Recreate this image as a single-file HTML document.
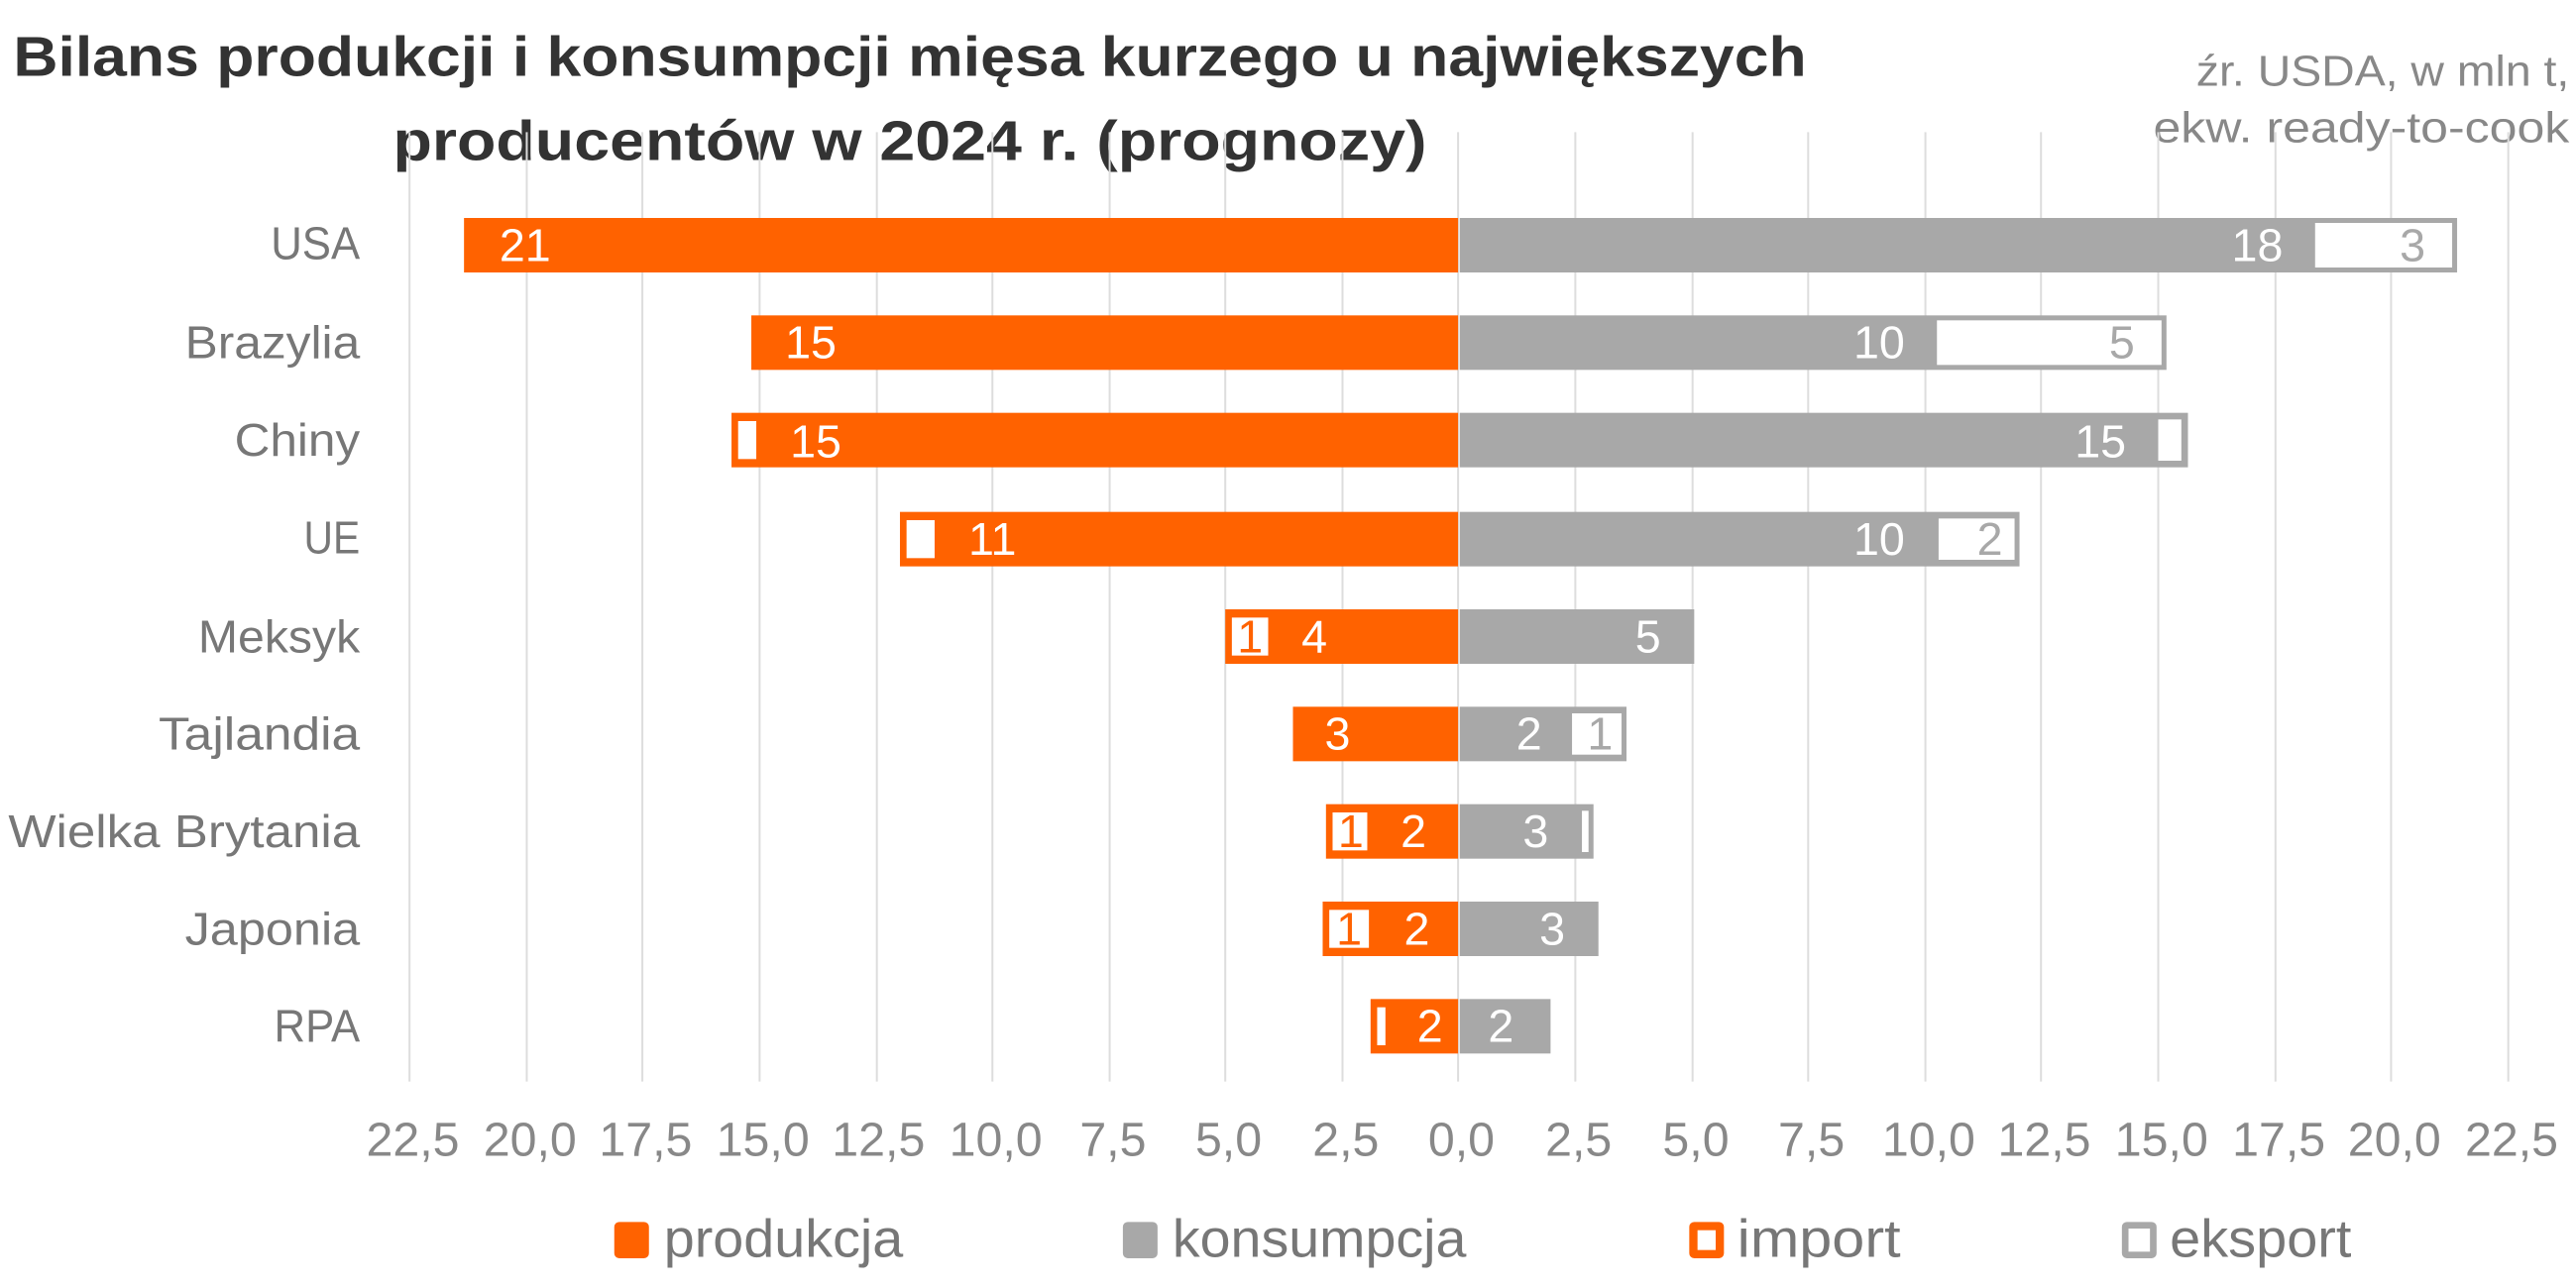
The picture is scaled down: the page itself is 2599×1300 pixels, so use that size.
<!DOCTYPE html>
<html><head><meta charset="utf-8"><style>
html,body{margin:0;padding:0;background:#fff;}
svg{display:block;}
text{font-family:"Liberation Sans Narrow","Liberation Sans",sans-serif;}
</style></head><body>
<svg width="2599" height="1300" viewBox="0 0 1560 780" preserveAspectRatio="none" xmlns="http://www.w3.org/2000/svg">
<text x="8" y="46" font-size="34" font-weight="bold" fill="#333" textLength="1086" lengthAdjust="spacingAndGlyphs" style="font-family:'Liberation Sans',sans-serif">Bilans produkcji i konsumpcji mięsa kurzego u największych</text>
<text x="238" y="97" font-size="34" font-weight="bold" fill="#333" textLength="626" lengthAdjust="spacingAndGlyphs" style="font-family:'Liberation Sans',sans-serif">producentów w 2024 r. (prognozy)</text>
<text x="1556" y="52" font-size="26" fill="#888" text-anchor="end" textLength="226" lengthAdjust="spacingAndGlyphs">źr. USDA, w mln t,</text>
<text x="1556" y="86" font-size="26" fill="#888" text-anchor="end" textLength="252" lengthAdjust="spacingAndGlyphs">ekw. ready-to-cook</text>
<g stroke="#DDD" stroke-width="1.2">
<line x1="248" y1="80" x2="248" y2="655"/><line x1="319" y1="80" x2="319" y2="655"/><line x1="389" y1="80" x2="389" y2="655"/><line x1="460" y1="80" x2="460" y2="655"/><line x1="531" y1="80" x2="531" y2="655"/><line x1="601" y1="80" x2="601" y2="655"/><line x1="672" y1="80" x2="672" y2="655"/><line x1="742" y1="80" x2="742" y2="655"/><line x1="813" y1="80" x2="813" y2="655"/><line x1="883" y1="80" x2="883" y2="655"/><line x1="954" y1="80" x2="954" y2="655"/><line x1="1025" y1="80" x2="1025" y2="655"/><line x1="1095" y1="80" x2="1095" y2="655"/><line x1="1166" y1="80" x2="1166" y2="655"/><line x1="1236" y1="80" x2="1236" y2="655"/><line x1="1307" y1="80" x2="1307" y2="655"/><line x1="1378" y1="80" x2="1378" y2="655"/><line x1="1448" y1="80" x2="1448" y2="655"/><line x1="1519" y1="80" x2="1519" y2="655"/>
</g>
<g font-size="28" fill="#777" text-anchor="end">
<text x="218" y="157" textLength="54" lengthAdjust="spacingAndGlyphs">USA</text><text x="218" y="217" textLength="106" lengthAdjust="spacingAndGlyphs">Brazylia</text><text x="218" y="276" textLength="76" lengthAdjust="spacingAndGlyphs">Chiny</text><text x="218" y="335" textLength="34" lengthAdjust="spacingAndGlyphs">UE</text><text x="218" y="395" textLength="98" lengthAdjust="spacingAndGlyphs">Meksyk</text><text x="218" y="454" textLength="122" lengthAdjust="spacingAndGlyphs">Tajlandia</text><text x="218" y="513" textLength="213" lengthAdjust="spacingAndGlyphs">Wielka Brytania</text><text x="218" y="572" textLength="106" lengthAdjust="spacingAndGlyphs">Japonia</text><text x="218" y="631" textLength="52" lengthAdjust="spacingAndGlyphs">RPA</text>
</g>
<g>
<rect x="281" y="132" width="602" height="33" fill="#FF6200"/>
<rect x="884" y="132" width="604" height="33" fill="#A8A8A8"/>
<rect x="1402" y="135" width="83" height="27" fill="#fff"/>
<rect x="455" y="191" width="428" height="33" fill="#FF6200"/>
<rect x="884" y="191" width="428" height="33" fill="#A8A8A8"/>
<rect x="1173" y="194" width="136" height="27" fill="#fff"/>
<rect x="443" y="250" width="440" height="33" fill="#FF6200"/>
<rect x="447" y="255" width="11" height="23" fill="#fff"/>
<rect x="884" y="250" width="441" height="33" fill="#A8A8A8"/>
<rect x="1307" y="254" width="14" height="25" fill="#fff"/>
<rect x="545" y="310" width="338" height="33" fill="#FF6200"/>
<rect x="549" y="315" width="17" height="23" fill="#fff"/>
<rect x="884" y="310" width="339" height="33" fill="#A8A8A8"/>
<rect x="1174" y="314" width="46" height="25" fill="#fff"/>
<rect x="742" y="369" width="141" height="33" fill="#FF6200"/>
<rect x="746" y="374" width="22" height="23" fill="#fff"/>
<rect x="884" y="369" width="142" height="33" fill="#A8A8A8"/>
<rect x="783" y="428" width="100" height="33" fill="#FF6200"/>
<rect x="884" y="428" width="101" height="33" fill="#A8A8A8"/>
<rect x="952" y="432" width="30" height="25" fill="#fff"/>
<rect x="803" y="487" width="80" height="33" fill="#FF6200"/>
<rect x="807" y="492" width="21" height="23" fill="#fff"/>
<rect x="884" y="487" width="81" height="33" fill="#A8A8A8"/>
<rect x="958" y="491" width="4" height="25" fill="#fff"/>
<rect x="801" y="546" width="82" height="33" fill="#FF6200"/>
<rect x="805" y="551" width="24" height="23" fill="#fff"/>
<rect x="884" y="546" width="84" height="33" fill="#A8A8A8"/>
<rect x="830" y="605" width="53" height="33" fill="#FF6200"/>
<rect x="834" y="610" width="5" height="23" fill="#fff"/>
<rect x="884" y="605" width="55" height="33" fill="#A8A8A8"/>
</g>
<g font-size="28" fill="#fff" text-anchor="middle">
<text x="318" y="158">21</text><text x="1367" y="158">18</text>
<text x="491" y="217">15</text><text x="1138" y="217">10</text>
<text x="494" y="277">15</text><text x="1272" y="277">15</text>
<text x="601" y="336">11</text><text x="1138" y="336">10</text>
<text x="796" y="395">4</text><text x="998" y="395">5</text>
<text x="810" y="454">3</text><text x="926" y="454">2</text>
<text x="856" y="513">2</text><text x="930" y="513">3</text>
<text x="858" y="572">2</text><text x="940" y="572">3</text>
<text x="866" y="631">2</text><text x="909" y="631">2</text>
</g>
<g font-size="28" fill="#A8A8A8" text-anchor="middle">
<text x="1461" y="158">3</text><text x="1285" y="217">5</text><text x="1205" y="336">2</text><text x="969" y="454">1</text>
</g>
<g font-size="28" fill="#FF6200" text-anchor="middle">
<text x="757" y="395">1</text><text x="818" y="513">1</text><text x="817" y="572">1</text>
</g>
<g font-size="29" fill="#888" text-anchor="middle">
<text x="250" y="700">22,5</text><text x="321" y="700">20,0</text><text x="391" y="700">17,5</text><text x="462" y="700">15,0</text><text x="532" y="700">12,5</text><text x="603" y="700">10,0</text><text x="674" y="700">7,5</text><text x="744" y="700">5,0</text><text x="815" y="700">2,5</text><text x="885" y="700">0,0</text><text x="956" y="700">2,5</text><text x="1027" y="700">5,0</text><text x="1097" y="700">7,5</text><text x="1168" y="700">10,0</text><text x="1238" y="700">12,5</text><text x="1309" y="700">15,0</text><text x="1380" y="700">17,5</text><text x="1450" y="700">20,0</text><text x="1521" y="700">22,5</text>
</g>
<g font-size="32" fill="#777">
<rect x="372" y="740" width="21" height="22" rx="3" fill="#FF6200"/><text x="402" y="761" textLength="145" lengthAdjust="spacingAndGlyphs">produkcja</text>
<rect x="680" y="740" width="21" height="22" rx="3" fill="#A8A8A8"/><text x="710" y="761" textLength="178" lengthAdjust="spacingAndGlyphs">konsumpcja</text>
<rect x="1023" y="740" width="21" height="22" rx="3" fill="#FF6200"/><rect x="1028" y="745" width="11" height="12" fill="#fff"/><text x="1052" y="761" textLength="99" lengthAdjust="spacingAndGlyphs">import</text>
<rect x="1285" y="740" width="21" height="22" rx="3" fill="#A8A8A8"/><rect x="1289" y="744" width="13" height="14" fill="#fff"/><text x="1314" y="761" textLength="110" lengthAdjust="spacingAndGlyphs">eksport</text>
</g>
</svg>
</body></html>
